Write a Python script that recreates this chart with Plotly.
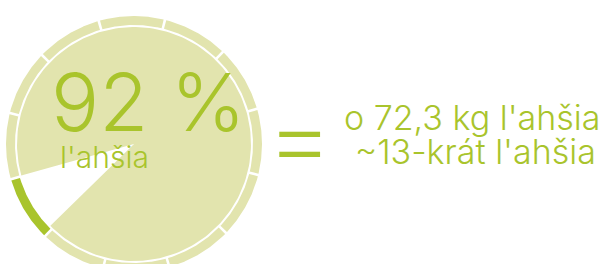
import numpy as np
import plotly.graph_objects as go

# ---- data ----
share_labels = ["l'ahšia", "ostatné"]
share_values = [92, 8]
ring_segments = 12
big_label = "92 %"
sub_label = "l'ahšia"
eq_sign = "="
eq_lines = ["o 72,3 kg l'ahšia", "~13-krát l'ahšia"]

# ---- style ----
LIGHT = "#e2e4ae"
GREEN = "#a9c42c"
W, H = 606, 264
CX, CY = 134, 144          # pixel centre of the disc
R_PIE = 117
R_RING_IN, R_RING_OUT = 119, 128
FONT = "Inter"

def px(x, y):
    return x - CX, CY - y

def wedge(a0, a1, r):
    t = np.radians(np.linspace(a0, a1, 200))
    xs = np.concatenate([[0], r * np.cos(t), [0]])
    ys = np.concatenate([[0], r * np.sin(t), [0]])
    return xs, ys

def band(a0, a1, r0, r1):
    t = np.radians(np.linspace(a0, a1, 80))
    xs = np.concatenate([r1 * np.cos(t), r0 * np.cos(t[::-1])])
    ys = np.concatenate([r1 * np.sin(t), r0 * np.sin(t[::-1])])
    return np.append(xs, xs[0]), np.append(ys, ys[0])

fig = go.Figure()

total = sum(share_values)
minor_start = 195.6
minor_span = share_values[1] / total * 360
main_span = share_values[0] / total * 360
xs, ys = wedge(minor_start + minor_span, minor_start + minor_span + main_span, R_PIE)
fig.add_trace(go.Scatter(x=xs, y=ys, fill="toself", fillcolor=LIGHT, mode="lines",
                         line=dict(width=0), hoverinfo="skip", name=share_labels[0]))

seg = 360 / ring_segments
gap = 1.2
start = 16
for i in range(ring_segments):
    a0 = start + i * seg + gap / 2
    a1 = start + (i + 1) * seg - gap / 2
    bx, by = band(a0, a1, R_RING_IN, R_RING_OUT)
    col = GREEN if (start + i * seg) % 360 == 196 else LIGHT
    fig.add_trace(go.Scatter(x=bx, y=by, fill="toself", fillcolor=col, mode="lines",
                             line=dict(width=0), hoverinfo="skip"))

ann = []
def add(text, cx, cy, size, family=FONT, weight=300):
    x, y = px(cx, cy)
    ann.append(dict(x=x, y=y, text=text, xanchor="center", yanchor="middle",
                    showarrow=False, xref="x", yref="y",
                    font=dict(family=family, size=size, color=GREEN, weight=weight)))

add(big_label, 148.5, 101, 80)
add(sub_label, 104.5, 157, 30)
add(eq_sign, 299.5, 142, 100, family="Roboto")
add(eq_lines[0], 471.5, 117, 34)
add(eq_lines[1], 475.5, 151.5, 34)

fig.update_layout(
    width=W, height=H, margin=dict(l=0, r=0, t=0, b=0),
    paper_bgcolor="white", plot_bgcolor="white", showlegend=False,
    xaxis=dict(range=[-CX, W - CX], visible=False, fixedrange=True),
    yaxis=dict(range=[CY - H, CY], visible=False, fixedrange=True),
    annotations=ann,
)
fig.write_html("out.html", config={"displayModeBar": False},
               post_script="document.body.style.margin='0';document.body.style.overflow='hidden';")
